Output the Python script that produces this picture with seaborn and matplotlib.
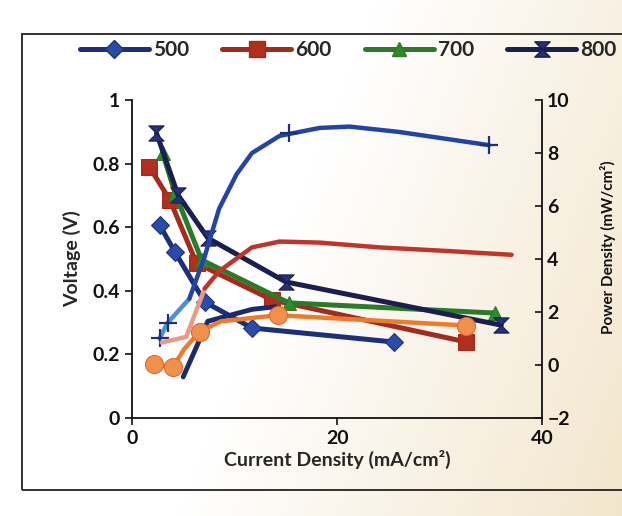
import numpy as np
import pandas as pd
import seaborn as sns
import matplotlib.pyplot as plt
from matplotlib.path import Path
from matplotlib.lines import Line2D
from matplotlib.patches import Rectangle

# Polarization data (voltage vs current density)
current_500 = [2.7, 4.2, 7.1, 11.7, 25.5]
voltage_500 = [0.607, 0.522, 0.365, 0.283, 0.239]
current_600 = [1.7, 3.7, 6.3, 13.7, 32.6]
voltage_600 = [0.79, 0.686, 0.487, 0.371, 0.239]
current_700 = [3.0, 4.2, 6.8, 15.3, 35.4]
voltage_700 = [0.833, 0.708, 0.497, 0.362, 0.33]
current_800 = [2.4, 4.5, 7.4, 15.0, 36.0]
voltage_800 = [0.896, 0.701, 0.566, 0.428, 0.292]

# Power density traces (right axis)
blue_x = [2.7, 3.5, 5.6, 7.1, 8.5, 10.2, 11.7, 14.4, 18.3, 21.2, 26.0, 34.8]
blue_p = [1.0, 1.6, 2.5, 4.1, 5.9, 7.2, 8.0, 8.65, 8.95, 9.0, 8.8, 8.3]
blue_mark_x = [2.7, 3.5, 15.3, 34.8]
blue_mark_p = [1.0, 1.6, 8.75, 8.3]

red_x = [2.9, 5.3, 7.1, 8.5, 11.7, 14.4, 18.3, 24.1, 30.9, 37.0]
red_p = [0.85, 1.06, 2.89, 3.54, 4.44, 4.66, 4.62, 4.44, 4.3, 4.16]

orange_x = [2.2, 4.0, 5.1, 6.6, 8.7, 14.2, 32.6]
orange_p = [0.02, -0.08, 0.6, 1.26, 1.65, 1.88, 1.49]
orange_mark_x = [2.2, 4.0, 6.6, 14.2, 32.6]
orange_mark_p = [0.02, -0.08, 1.26, 1.88, 1.49]

navy_x = [5.0, 7.4, 11.7, 14.0]
navy_p = [-0.45, 1.65, 2.1, 2.2]

series = ["500", "600", "700", "800"]

sns.set_theme(style="white")
plt.rcParams['font.family'] = ['Lato', 'DejaVu Sans']
plt.rcParams['font.weight'] = 'bold'

hourglass = Path([(-1, 1), (1, 1), (0, 0), (1, -1), (-1, -1), (0, 0), (-1, 1)],
                 [Path.MOVETO, Path.LINETO, Path.LINETO, Path.LINETO,
                  Path.LINETO, Path.LINETO, Path.CLOSEPOLY])

fig = plt.figure(figsize=(6.22, 5.16), dpi=100)

# paper background: white on the left, warm cream towards the right
bg = fig.add_axes([0, 0, 1, 1], zorder=-5)
gx = np.linspace(0, 1, 200)
gy = np.linspace(0, 1, 200)
gxx, gyy = np.meshgrid(gx, gy)
w = np.clip((gxx - 0.5) * 1.4 + (gyy - 0.35) * 0.45, 0, 1)
white = np.array([1.0, 1.0, 1.0])
cream = np.array([0.95, 0.9, 0.8])
img = white[None, None, :] * (1 - w[..., None]) + cream[None, None, :] * w[..., None]
bg.imshow(img, aspect='auto', extent=[0, 1, 0, 1], origin='upper')
bg.axis('off')
fig.patches.append(Rectangle((0.036, 0.05), 1.2, 0.885, transform=fig.transFigure,
                             fill=False, lw=1.3, ec='#222222'))

ax = fig.add_axes([0.212, 0.19, 0.66, 0.616])
ax.set_facecolor('none')

styles = {
    "500": dict(x=current_500, y=voltage_500, color="#1d2f7a", mfc="#2a4ca8", marker="D", ms=9),
    "600": dict(x=current_600, y=voltage_600, color="#a32a1f", mfc="#b0301f", marker="s", ms=11),
    "700": dict(x=current_700, y=voltage_700, color="#2a7a26", mfc="#2f8a2a", marker="^", ms=10),
    "800": dict(x=current_800, y=voltage_800, color="#1a1f4d", mfc="#23307a", marker=hourglass, ms=11),
}

handles = []
for name in series:
    s = styles[name]
    sns.lineplot(x=s["x"], y=s["y"], ax=ax, color=s["color"], lw=3.6,
                 marker=s["marker"], markersize=s["ms"], markerfacecolor=s["mfc"],
                 markeredgecolor=s["color"], estimator=None, sort=False)
    handles.append(Line2D([], [], color=s["color"], lw=3.6, marker=s["marker"],
                          markersize=s["ms"], markerfacecolor=s["mfc"],
                          markeredgecolor=s["color"]))

ax.set_xlim(0, 40)
ax.set_ylim(0, 1)
ax.set_xticks([0, 20, 40])
ax.set_yticks([0, 0.2, 0.4, 0.6, 0.8, 1])
ax.set_yticklabels(["0", "0.2", "0.4", "0.6", "0.8", "1"])
ax.tick_params(axis='both', labelsize=14, direction='out', length=5, width=1.2,
               left=True, bottom=True, colors='#111111')
ax.set_xlabel("Current Density (mA/cm²)", fontsize=14, fontweight='bold', labelpad=2)
ax.set_ylabel("Voltage (V)", fontsize=14, fontweight='bold', labelpad=8)
for side in ['left', 'bottom']:
    ax.spines[side].set_color('#111111')
    ax.spines[side].set_linewidth(1.3)
ax.spines['top'].set_visible(False)
ax.spines['right'].set_visible(False)

# power density on secondary axis
ax2 = ax.twinx()
sns.lineplot(x=navy_x, y=navy_p, ax=ax2, color="#1b2a6e", lw=3.5, estimator=None, sort=False)
sns.lineplot(x=blue_x[:3], y=blue_p[:3], ax=ax2, color="#4a8fd8", lw=3.2, estimator=None, sort=False)
sns.lineplot(x=blue_x[2:], y=blue_p[2:], ax=ax2, color="#2443a6", lw=3.2, estimator=None, sort=False)
sns.lineplot(x=blue_mark_x, y=blue_mark_p, ax=ax2, color="#2443a6", lw=0, marker="+",
             markersize=13, markeredgewidth=1.6, markeredgecolor="#1d2f7a",
             estimator=None, sort=False)
sns.lineplot(x=red_x[:3], y=red_p[:3], ax=ax2, color="#e89a86", lw=3.2, estimator=None, sort=False)
sns.lineplot(x=red_x[2:], y=red_p[2:], ax=ax2, color="#c0342a", lw=3.2, estimator=None, sort=False)
sns.lineplot(x=orange_x, y=orange_p, ax=ax2, color="#f07a2c", lw=3.2, estimator=None, sort=False)
sns.lineplot(x=orange_mark_x, y=orange_mark_p, ax=ax2, color="#f07a2c", lw=0, marker="o",
             markersize=13, markerfacecolor="#f0904a", markeredgecolor="#e8642a",
             estimator=None, sort=False)

ax2.set_ylim(-2, 10)
ax2.set_yticks([-2, 0, 2, 4, 6, 8, 10])
ax2.tick_params(axis='y', labelsize=14, direction='in', length=5, width=1.2,
                right=True, colors='#111111')
ax2.set_ylabel("")
for side in ['left', 'top', 'bottom']:
    ax2.spines[side].set_visible(False)
ax2.spines['right'].set_color('#111111')
ax2.spines['right'].set_linewidth(1.3)
ax2.grid(False)
ax.grid(False)

fig.text(0.978, 0.52, "Power Density (mW/cm²)", rotation=90, ha='center', va='center',
         fontsize=11, fontweight='bold', color='#111111')

fig.legend(handles, series, ncol=4, loc='center', bbox_to_anchor=(0.56, 0.903),
           frameon=False, handlelength=3.3, columnspacing=1.6, handletextpad=0.2,
           prop={'weight': 'bold', 'size': 15})

fig.savefig("out.png", dpi=100)
plt.close(fig)
